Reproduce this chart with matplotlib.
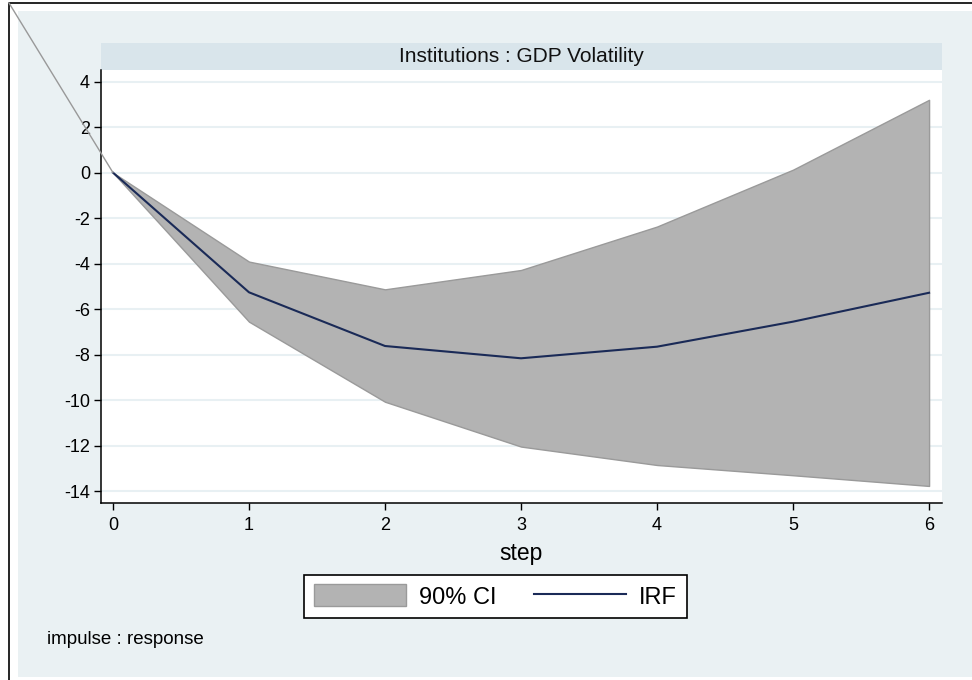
import numpy as np
import matplotlib.pyplot as plt
from matplotlib.patches import Rectangle, ConnectionPatch
from matplotlib.lines import Line2D

plt.rcParams['font.family'] = ['Liberation Sans', 'DejaVu Sans']
plt.rcParams['axes.unicode_minus'] = False

steps = [0, 1, 2, 3, 4, 5, 6]
irf = [0.0, -5.26, -7.62, -8.16, -7.65, -6.55, -5.28]
ci_upper = [0.0, -3.91, -5.13, -4.28, -2.37, 0.13, 3.2]
ci_lower = [0.0, -6.55, -10.07, -12.04, -12.85, -13.3, -13.77]
yticks = [-14, -12, -10, -8, -6, -4, -2, 0, 2, 4]
title = "Institutions : GDP Volatility"

bg = '#EAF1F3'
strip = '#D9E5EB'
band = '#B3B3B3'
navy = '#1A2A57'

fig = plt.figure(figsize=(9.72, 6.8), dpi=100, facecolor='white')

# outer frame + light background
fig.patches.append(Rectangle((18/972, 3/680), 1 - 18/972, 666/680, transform=fig.transFigure,
                             facecolor=bg, edgecolor='none', zorder=-10))
fig.add_artist(Line2D([9/972, 9/972, 1], [0, 677/680, 677/680], transform=fig.transFigure,
                      color='black', lw=1.2, zorder=-9))

# title strip
fig.patches.append(Rectangle((101/972, 610/680), 841/972, 27/680, transform=fig.transFigure,
                             facecolor=strip, edgecolor='none', zorder=-8))

ax = fig.add_axes([101/972, 177/680, 841/972, 433/680], zorder=1)
ax.set_facecolor('white')

fig.text((101 + 841/2)/972, 623.5/680, title, ha='center', va='center', fontsize=15, color='#111111')

ax.fill_between(steps, ci_lower, ci_upper, facecolor=band, edgecolor='#9a9a9a', lw=1,
                label='90% CI', zorder=2)
ax.plot(steps, irf, color=navy, lw=1.5, label='IRF', zorder=3)

ax.set_xlim(-0.088, 6.095)
ax.set_ylim(-14.52, 4.51)
ax.set_xticks(steps)
ax.set_yticks(yticks)
ax.grid(axis='y', color='#E8F0F3', lw=1.5, zorder=0)
ax.set_axisbelow(True)
for s in ['top', 'right']:
    ax.spines[s].set_visible(False)
for s in ['left', 'bottom']:
    ax.spines[s].set_linewidth(1.1)
ax.tick_params(axis='both', direction='out', length=5, width=1, labelsize=13, colors='black')
ax.tick_params(axis='x', pad=5)
ax.tick_params(axis='y', pad=3)
ax.set_xlabel('step', fontsize=16.5, labelpad=6)

# stray outline of the band running off to the corner
con = ConnectionPatch(xyA=(steps[0], irf[0]), coordsA='data',
                      xyB=(9/972, 677/680), coordsB='figure fraction',
                      axesA=ax, color='#999999', lw=1, zorder=5)
fig.add_artist(con)

handles, labels = ax.get_legend_handles_labels()
leg = fig.legend(handles, labels, loc='center', bbox_to_anchor=(495.5/972, 83.5/680), ncol=2,
                 fontsize=17, frameon=True, fancybox=False, edgecolor='black', framealpha=1,
                 handlelength=3.9, handleheight=1.05, handletextpad=0.55, columnspacing=1.6,
                 borderpad=0.42, borderaxespad=0)
leg.get_frame().set_linewidth(1.2)

fig.text(47/972, 40/680, 'impulse : response', ha='left', va='center', fontsize=13.5)

fig.savefig('out.png', dpi=100, facecolor=fig.get_facecolor())
